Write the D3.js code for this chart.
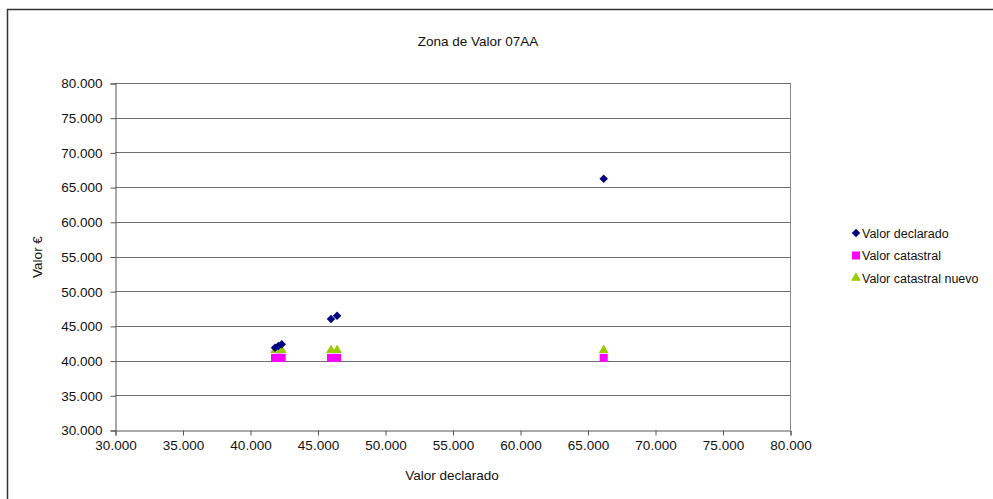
<!DOCTYPE html>
<html>
<head>
<meta charset="utf-8">
<script src="https://cdn.jsdelivr.net/npm/d3@7"></script>
<style>
  html, body { margin: 0; padding: 0; background: #fff; }
  svg { display: block; font-family: "Liberation Sans", Arial, sans-serif; }
</style>
</head>
<body>
<svg id="chart" width="993" height="499"></svg>
<script>
// Declared value of each property (x axis)
const declarado = [41850, 42100, 42350, 46000, 46450, 66200];
// Declared value plotted against itself
const valorDeclarado = [41850, 42100, 42350, 46000, 46450, 66200];
// Cadastral value, current
const valorCatastral = [40400, 40400, 40400, 40400, 40400, 40400];
// Cadastral value, new
const valorCatastralNuevo = [41500, 41500, 41500, 41500, 41500, 41500];

const xTicks = [30000, 35000, 40000, 45000, 50000, 55000, 60000, 65000, 70000, 75000, 80000];
const yTicks = [30000, 35000, 40000, 45000, 50000, 55000, 60000, 65000, 70000, 75000, 80000];

const seriesNames = ["Valor declarado", "Valor catastral", "Valor catastral nuevo"];
const seriesColors = ["#000080", "#FF00FF", "#99CC00"];
const seriesValues = [valorDeclarado, valorCatastral, valorCatastralNuevo];

// marker paths: diamond = rotated square, square, triangle
const markerPath = [
  () => d3.symbol().type(d3.symbolSquare).size(36)(),
  () => d3.symbol().type(d3.symbolSquare).size(64)(),
  () => d3.symbol().type(d3.symbolTriangle).size(42)()
];
const markerRotate = [45, 0, 0];

const tickFmt = v => (v / 1000).toFixed(0) + ".000";

const svg = d3.select("#chart");

// outer chart frame
svg.append("path")
  .attr("d", "M7.5,499 L7.5,9.5 L993,9.5")
  .attr("fill", "none").attr("stroke", "#333").attr("stroke-width", 1.5);

const plot = { left: 115, right: 790, top: 83, bottom: 430 };

const x = d3.scaleLinear().domain([30000, 80000]).range([plot.left, plot.right]);
const y = d3.scaleLinear().domain([30000, 80000]).range([plot.bottom, plot.top]);

// horizontal gridlines
svg.append("g")
  .selectAll("line")
  .data(yTicks.filter(t => t !== 30000))
  .join("line")
  .attr("x1", plot.left).attr("x2", plot.right)
  .attr("y1", d => Math.round(y(d)) + 0.5).attr("y2", d => Math.round(y(d)) + 0.5)
  .attr("stroke", "#6e6e6e").attr("stroke-width", 1);

// right border of plot area
svg.append("line")
  .attr("x1", plot.right + 0.5).attr("x2", plot.right + 0.5)
  .attr("y1", plot.top).attr("y2", plot.bottom)
  .attr("stroke", "#888").attr("stroke-width", 1);

// y axis
const yAxis = svg.append("g")
  .attr("transform", `translate(${plot.left + 0.5},0.5)`)
  .call(d3.axisLeft(y).tickValues(yTicks).tickFormat(tickFmt).tickSize(5).tickPadding(8));
yAxis.select(".domain").attr("stroke", "#555");
yAxis.selectAll(".tick line").attr("stroke", "#555");
yAxis.selectAll(".tick text").attr("font-size", 13.5).attr("fill", "#111")
  .attr("font-family", "Liberation Sans, Arial, sans-serif");

// x axis
const xAxis = svg.append("g")
  .attr("transform", `translate(0.5,${plot.bottom + 0.5})`)
  .call(d3.axisBottom(x).tickValues(xTicks).tickFormat(tickFmt).tickSize(5).tickPadding(5));
xAxis.select(".domain").attr("stroke", "#555");
xAxis.selectAll(".tick line").attr("stroke", "#555");
xAxis.selectAll(".tick text").attr("font-size", 13.5).attr("fill", "#111")
  .attr("font-family", "Liberation Sans, Arial, sans-serif");

// data markers: squares, then triangles, then diamonds on top
[1, 2, 0].forEach(i => {
  svg.append("g")
    .selectAll("path")
    .data(declarado.map((d, k) => [d, seriesValues[i][k]]))
    .join("path")
    .attr("transform", d => `translate(${x(d[0])},${y(d[1])}) rotate(${markerRotate[i]})`)
    .attr("d", markerPath[i]())
    .attr("fill", seriesColors[i]);
});

// title and axis titles
svg.append("text")
  .attr("x", 478).attr("y", 46)
  .attr("text-anchor", "middle").attr("font-size", 13.5).attr("fill", "#111")
  .text("Zona de Valor 07AA");

svg.append("text")
  .attr("x", 452).attr("y", 480)
  .attr("text-anchor", "middle").attr("font-size", 13.5).attr("fill", "#111")
  .text("Valor declarado");

svg.append("text")
  .attr("transform", "translate(42,257) rotate(-90)")
  .attr("text-anchor", "middle").attr("font-size", 13.5).attr("fill", "#111")
  .text("Valor €");

// legend
const legend = svg.append("g").attr("transform", "translate(856,233)");
seriesNames.forEach((name, i) => {
  const g = legend.append("g").attr("transform", `translate(0,${i * 22.5})`);
  g.append("path")
    .attr("d", markerPath[i]())
    .attr("transform", `rotate(${markerRotate[i]})`)
    .attr("fill", seriesColors[i]);
  g.append("text")
    .attr("x", 6).attr("y", 4.5)
    .attr("font-size", 12.5).attr("fill", "#111")
    .text(name);
});
</script>
</body>
</html>
